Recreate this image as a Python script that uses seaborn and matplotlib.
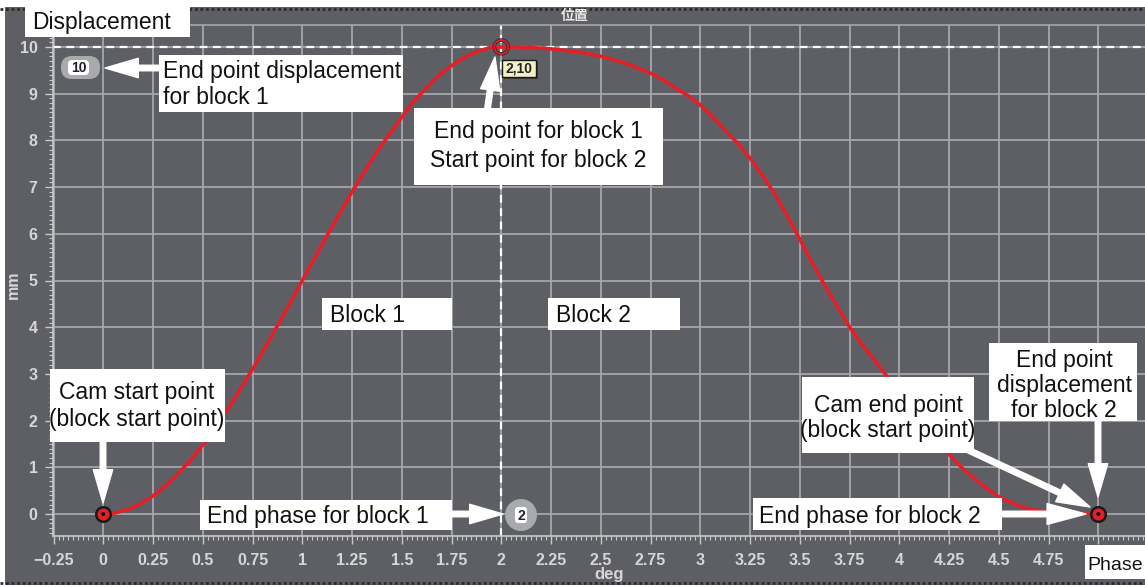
import matplotlib
matplotlib.use("Agg")
import matplotlib.pyplot as plt
import seaborn as sns
import pandas as pd
from matplotlib.patches import Rectangle, FancyBboxPatch, FancyArrowPatch, Circle
from matplotlib.ticker import MultipleLocator, FixedLocator
from matplotlib.lines import Line2D
from matplotlib.transforms import Affine2D

# ---------------- data ----------------
phase_deg = [0.0, 0.0625, 0.125, 0.1875, 0.25, 0.3125, 0.375, 0.4375, 0.5, 0.625, 0.75,
             0.875, 1.0, 1.125, 1.25, 1.375, 1.5, 1.5625, 1.625, 1.6875, 1.75, 1.8125,
             1.875, 1.9375, 2.0,
             2.0625, 2.125, 2.1875, 2.25, 2.3125, 2.375, 2.4375, 2.5, 2.5625, 2.625,
             2.6875, 2.75, 2.8125, 2.875, 2.9375, 3.0, 3.0625, 3.125, 3.1875, 3.25,
             3.3125, 3.375, 3.4375, 3.5, 3.5625, 3.625, 3.6875, 3.75, 3.8125, 3.875,
             3.9375, 4.0, 4.0625, 4.125, 4.1875, 4.25, 4.3125, 4.375, 4.4375, 4.5,
             4.5625, 4.625, 4.6875, 4.75, 4.8125, 4.875, 4.9375, 5.0]
displacement_mm = [0.0, 0.025, 0.1, 0.22, 0.39, 0.6, 0.86, 1.15, 1.48, 2.24, 3.1,
                   4.03, 5.0, 5.97, 6.9, 7.76, 8.5, 8.85, 9.13, 9.4, 9.6, 9.77,
                   9.9, 9.98, 10.0,
                   10.0, 9.99, 9.98, 9.96, 9.93, 9.9, 9.86, 9.8, 9.73, 9.65,
                   9.55, 9.44, 9.3, 9.12, 8.96, 8.76, 8.5, 8.22, 7.94, 7.62,
                   7.25, 6.85, 6.38, 5.88, 5.38, 4.9, 4.45, 4.0, 3.63, 3.3,
                   2.95, 2.62, 2.28, 1.94, 1.6, 1.28, 1.0, 0.77, 0.55, 0.37,
                   0.24, 0.14, 0.08, 0.05, 0.02, 0.01, 0.0, 0.0]
end_point_phase = [0, 5]
end_point_disp = [0, 0]
block_joint_phase = [2]
block_joint_disp = [10]
x_tick_values = [-0.25, 0, 0.25, 0.5, 0.75, 1, 1.25, 1.5, 1.75, 2, 2.25, 2.5, 2.75,
                 3, 3.25, 3.5, 3.75, 4, 4.25, 4.5, 4.75, 5]
x_tick_labels = ["\u22120.25", "0", "0.25", "0.5", "0.75", "1", "1.25", "1.5", "1.75",
                 "2", "2.25", "2.5", "2.75", "3", "3.25", "3.5", "3.75", "4", "4.25",
                 "4.5", "4.75", ""]
y_tick_values = [0, 1, 2, 3, 4, 5, 6, 7, 8, 9, 10]
y_tick_labels = [str(v) for v in y_tick_values]
title_text = "位置"
x_label = "deg"
y_label = "mm"

# ---------------- style ----------------
W, H = 1145, 587
BG = "#5e5f64"
GRID = "#a6a7ab"
TICKC = "#d6d6d6"
RED = "#e3202a"

sns.set_theme(style="dark", rc={"axes.facecolor": BG, "figure.facecolor": BG})
plt.rcParams["font.family"] = ["Liberation Sans", "DejaVu Sans"]
NARROW = ["Liberation Sans Narrow", "Liberation Sans", "DejaVu Sans"]

fig = plt.figure(figsize=(W / 100, H / 100), dpi=100, facecolor=BG)
ax = fig.add_axes([53 / W, (H - 536) / H, (W - 53) / W, (536 - 25) / H])
ax.set_facecolor(BG)

x0px, unitx = 103.3, 199.0
y0px, unity = 514.0, 46.7
ax.set_xlim((53 - x0px) / unitx, (W - x0px) / unitx)
ax.set_ylim((y0px - 536) / unity, (y0px - 25) / unity)

# grid and ticks
ax.xaxis.set_major_locator(FixedLocator(x_tick_values))
ax.set_xticklabels(x_tick_labels)
ax.yaxis.set_major_locator(FixedLocator(y_tick_values))
ax.set_yticklabels(y_tick_labels)
ax.xaxis.set_minor_locator(MultipleLocator(0.025))
ax.yaxis.set_minor_locator(MultipleLocator(0.1))
ax.grid(True, which="major", color=GRID, lw=1.3, zorder=0)
ax.set_axisbelow(True)

ax.tick_params(axis="both", which="major", length=6, width=1.0, color="#c9c9c9",
               labelcolor=TICKC, direction="out", bottom=True, left=True)
ax.tick_params(axis="both", which="minor", length=3, width=0.8, color="#c9c9c9",
               direction="out", bottom=True, left=True)
ax.tick_params(axis="x", pad=6, labelsize=11.5)
ax.tick_params(axis="y", pad=5, labelsize=11.5)
for lab in ax.get_xticklabels() + ax.get_yticklabels():
    lab.set_fontweight("bold")
    lab.set_family(NARROW)

for side in ["left", "bottom"]:
    ax.spines[side].set_color("#c9c9c9")
    ax.spines[side].set_linewidth(1.2)
ax.spines["top"].set_color("#a8a8a8")
ax.spines["top"].set_linewidth(1.2)
ax.spines["right"].set_visible(False)

# dashed guide lines at the block joint
ax.axhline(block_joint_disp[0], color="white", lw=1.6, ls=(0, (3.5, 2.5)), zorder=2)
ax.axvline(block_joint_phase[0], color="white", lw=1.6, ls=(0, (3.5, 2.5)), zorder=2)

# curve
df = pd.DataFrame({"phase": phase_deg, "disp": displacement_mm})
sns.lineplot(data=df, x="phase", y="disp", sort=False, estimator=None, color=RED,
             lw=2.6, ax=ax, zorder=4)

# points
sns.scatterplot(x=end_point_phase, y=end_point_disp, ax=ax, s=110, color=RED,
                edgecolor="#1a1a1a", linewidth=1.8, zorder=5)
sns.scatterplot(x=end_point_phase, y=end_point_disp, ax=ax, s=8, color="black",
                edgecolor="none", zorder=6)
sns.scatterplot(x=block_joint_phase, y=block_joint_disp, ax=ax, s=100,
                facecolor="none", edgecolor="#3a2a2a", linewidth=2.6, zorder=5)
sns.scatterplot(x=block_joint_phase, y=block_joint_disp, ax=ax, s=100,
                facecolor="none", edgecolor=RED, linewidth=1.3, zorder=6)

ax.set_xlabel("")
ax.set_ylabel("")

# ---------------- helpers in picture pixels (origin top-left) ----------------
PIX = Affine2D().scale(1, -1).translate(0, H)


def box(x0, y0, x1, y1, fc="white", ec="none", lw=0, z=8):
    fig.add_artist(Rectangle((x0, y0), x1 - x0, y1 - y0, transform=PIX, facecolor=fc,
                             edgecolor=ec, lw=lw, zorder=z))


def txt(px, py, s, ha="left", size=16.5, z=12, family=None, **kw):
    fam = family if family is not None else ["Liberation Sans", "DejaVu Sans"]
    fig.text(px, py, s, ha=ha, va="baseline", fontsize=size, color="#111111",
             zorder=z, transform=PIX, family=fam, **kw)


def arrow(tail, tip, hl=1.2, hw=0.7):
    fig.add_artist(FancyArrowPatch(tail, tip, transform=PIX,
                                   arrowstyle=f"simple,head_length={hl},head_width={hw},tail_width=0.2",
                                   mutation_scale=20, color="white", shrinkA=0, shrinkB=0,
                                   zorder=12))


# outer frame bits
box(0, 0, W, 7, z=10)
box(0, 0, 5, H, z=10)
box(0, 585, W, H, z=10)
fig.add_artist(Line2D([0, W], [9, 9], transform=PIX, color="#2b2b2e",
                      lw=2, ls=(0, (1, 1)), zorder=10))
fig.add_artist(Line2D([0, W], [583, 583], transform=PIX, color="#2b2b2e",
                      lw=2, ls=(0, (1, 1)), zorder=10))

# title and axis names
fig.text(575, 16, title_text, ha="center", va="center", fontsize=10,
         fontweight="bold", color="#e8e8e8", family=["Noto Sans CJK JP", "DejaVu Sans"],
         zorder=11, transform=PIX)
fig.text(13, 285, y_label, ha="center", va="center", rotation=90, fontsize=11.5,
         fontweight="bold", color=TICKC, family=NARROW, transform=PIX)
fig.text(609, 575, x_label, ha="center", va="center", fontsize=12,
         fontweight="bold", color=TICKC, family=NARROW, transform=PIX)

# value badges of the chart UI
fig.add_artist(FancyBboxPatch((61, 56), 39, 23, boxstyle="round,pad=0,rounding_size=11",
                              transform=PIX, facecolor="#a9aaad", edgecolor="none",
                              zorder=7))
fig.add_artist(FancyBboxPatch((68, 60), 21, 15, boxstyle="round,pad=0,rounding_size=4",
                              transform=PIX, facecolor="white", edgecolor="none",
                              zorder=7.5))
fig.text(78.5, 67.5, "10", ha="center", va="center", fontsize=10,
         fontweight="bold", color="#222222", family=NARROW, zorder=8, transform=PIX)

fig.add_artist(Circle((521, 515), 16, transform=PIX, facecolor="#a9aaad",
                      edgecolor="none", zorder=7))
fig.add_artist(FancyBboxPatch((515, 507), 12, 16, boxstyle="round,pad=0,rounding_size=3",
                              transform=PIX, facecolor="white", edgecolor="none",
                              zorder=7.5))
fig.text(521, 515.5, "2", ha="center", va="center", fontsize=10,
         fontweight="bold", color="#222222", family=NARROW, zorder=8, transform=PIX)

# tooltip
box(504, 62, 538, 79, fc="#3a3a3a", z=6.5)
box(502, 60, 536, 77, fc="#f3f0c9", ec="#1a1a1a", lw=1.0, z=7)
fig.text(519, 68.5, "2,10", ha="center", va="center", fontsize=10,
         fontweight="bold", color="#222222", family=NARROW, zorder=8, transform=PIX)

# ---------------- annotation boxes ----------------
box(25, 7, 190, 37, z=11)
txt(32, 29, "Displacement")

box(159, 55, 403, 112, z=11)
txt(163, 78, "End point displacement")
txt(163, 104, "for block 1")
arrow((160, 68), (105, 68))

box(414, 108, 663, 185, z=11)
txt(538, 138, "End point for block 1", ha="center")
txt(538, 167, "Start point for block 2", ha="center")
arrow((487, 112), (495, 57))

box(322, 298, 452, 330, z=11)
txt(330, 322, "Block 1")
box(548, 298, 680, 330, z=11)
txt(556, 322, "Block 2")

box(50, 369, 225, 442, z=11)
txt(137, 399, "Cam start point", ha="center")
txt(137, 426, "(block start point)", ha="center")
arrow((103, 440), (103, 503))

box(200, 500, 452, 530, z=11)
txt(207, 523, "End phase for block 1")
arrow((450, 514), (503, 514))

box(753, 498, 1002, 530, z=11)
txt(759, 523, "End phase for block 2")
arrow((1000, 514), (1086, 514), hl=1.4, hw=0.75)

box(802, 377, 974, 453, z=11)
txt(888, 412, "Cam end point", ha="center")
txt(888, 437, "(block start point)", ha="center")
arrow((966, 449), (1090, 507))

box(989, 343, 1137, 421, z=11)
txt(1064, 367, "End point", ha="center")
txt(1064, 392, "displacement", ha="center")
txt(1064, 417, "for block 2", ha="center")
arrow((1098, 418), (1098, 497))

box(1085, 545, W, 579, z=11)
txt(1115, 570, "Phase", ha="center", size=14)

fig.savefig("out.png", dpi=100, facecolor=BG)
